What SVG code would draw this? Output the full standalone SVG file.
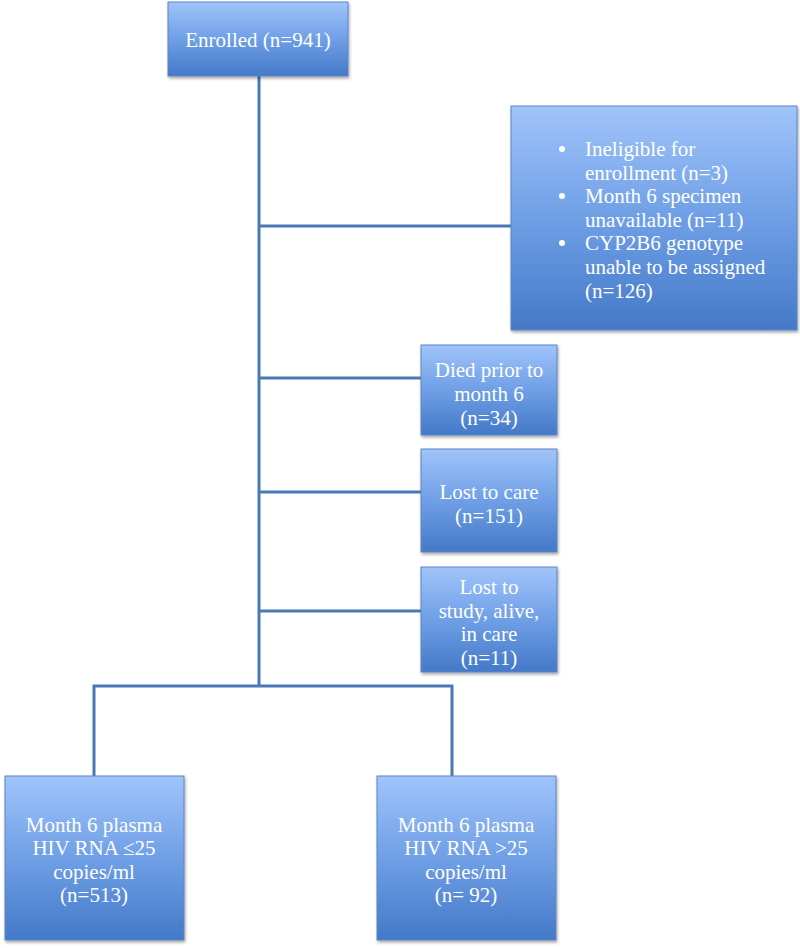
<svg xmlns="http://www.w3.org/2000/svg" width="800" height="948" viewBox="0 0 800 948">
<defs>
<linearGradient id="g" x1="0" y1="0" x2="0" y2="1">
<stop offset="0" stop-color="#a0c4fa"/>
<stop offset="0.5" stop-color="#6f9fe6"/>
<stop offset="1" stop-color="#4479c8"/>
</linearGradient>
<filter id="sh" x="-10%" y="-10%" width="120%" height="120%">
<feDropShadow dx="1" dy="2" stdDeviation="1.5" flood-color="#000" flood-opacity="0.35"/>
</filter>
</defs>
<style>
.box{fill:url(#g);stroke:#5a86c4;stroke-width:1;filter:url(#sh)}
.t{font-family:"Liberation Serif","Times New Roman",serif;font-size:21px;fill:#ffffff;text-anchor:middle}
.tl{font-family:"Liberation Serif","Times New Roman",serif;font-size:21px;fill:#ffffff}
.c{stroke:#4a78b6;stroke-width:3;fill:none}
</style>
<rect width="800" height="948" fill="#ffffff"/>
<g id="connectors">
<line class="c" x1="259" y1="76" x2="259" y2="687"/>
<line class="c" x1="259" y1="226" x2="511" y2="226"/>
<line class="c" x1="259" y1="378" x2="421" y2="378"/>
<line class="c" x1="259" y1="492" x2="421" y2="492"/>
<line class="c" x1="259" y1="611" x2="421" y2="611"/>
<polyline class="c" points="94,776 94,686 452,686 452,776"/>
</g>
<g id="enrolled">
<rect class="box" x="168" y="2" width="180" height="74"/>
<text class="t" x="258" y="47">Enrolled (n=941)</text>
</g>
<g id="excluded">
<rect class="box" x="511" y="106" width="286" height="224"/>
<circle cx="562" cy="149" r="3" fill="#fff"/>
<text class="tl" x="585" y="156">Ineligible for</text>
<text class="tl" x="585" y="180">enrollment (n=3)</text>
<circle cx="562" cy="196" r="3" fill="#fff"/>
<text class="tl" x="585" y="203">Month 6 specimen</text>
<text class="tl" x="585" y="227">unavailable (n=11)</text>
<circle cx="562" cy="243" r="3" fill="#fff"/>
<text class="tl" x="585" y="250">CYP2B6 genotype</text>
<text class="tl" x="585" y="274">unable to be assigned</text>
<text class="tl" x="585" y="298">(n=126)</text>
</g>
<g id="died">
<rect class="box" x="421" y="345" width="136" height="90"/>
<text class="t" x="489" y="377">Died prior to</text>
<text class="t" x="489" y="401">month 6</text>
<text class="t" x="489" y="425">(n=34)</text>
</g>
<g id="lostcare">
<rect class="box" x="421" y="449" width="136" height="103"/>
<text class="t" x="489" y="499">Lost to care</text>
<text class="t" x="489" y="523">(n=151)</text>
</g>
<g id="loststudy">
<rect class="box" x="421" y="567" width="136" height="105"/>
<text class="t" x="489" y="594">Lost to</text>
<text class="t" x="489" y="618">study, alive,</text>
<text class="t" x="489" y="641">in care</text>
<text class="t" x="489" y="665">(n=11)</text>
</g>
<g id="suppressed">
<rect class="box" x="5" y="776" width="179" height="164"/>
<text class="t" x="94" y="832">Month 6 plasma</text>
<text class="t" x="94" y="855">HIV RNA ≤25</text>
<text class="t" x="94" y="879">copies/ml</text>
<text class="t" x="94" y="902">(n=513)</text>
</g>
<g id="unsuppressed">
<rect class="box" x="377" y="776" width="179" height="164"/>
<text class="t" x="466" y="832">Month 6 plasma</text>
<text class="t" x="466" y="855">HIV RNA &gt;25</text>
<text class="t" x="466" y="879">copies/ml</text>
<text class="t" x="466" y="902">(n= 92)</text>
</g>
</svg>
